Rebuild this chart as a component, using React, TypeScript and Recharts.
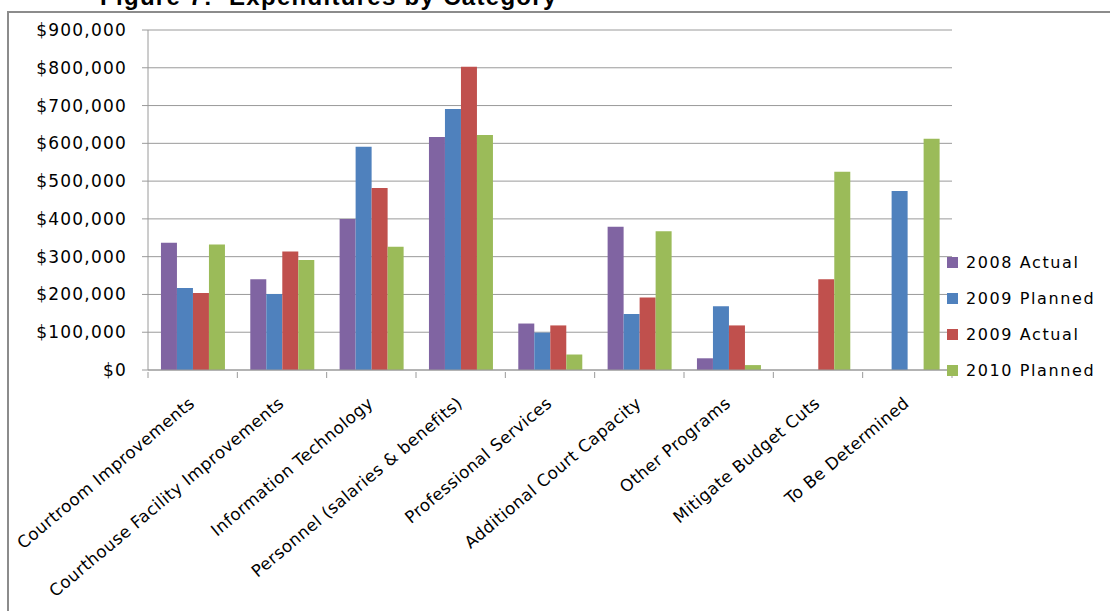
import { BarChart, Bar, XAxis, YAxis, CartesianGrid } from 'recharts'

const categories = [
  'Courtroom Improvements',
  'Courthouse Facility Improvements',
  'Information Technology',
  'Personnel (salaries & benefits)',
  'Professional Services',
  'Additional Court Capacity',
  'Other Programs',
  'Mitigate Budget Cuts',
  'To Be Determined',
]
const actual2008 = [337000, 240000, 400000, 617000, 123000, 379000, 31000, 0, 0]
const planned2009 = [217000, 201000, 591000, 691000, 99000, 148000, 169000, 0, 474000]
const actual2009 = [204000, 314000, 482000, 803000, 118000, 192000, 118000, 240000, 0]
const planned2010 = [332000, 291000, 326000, 622000, 41000, 367000, 13000, 525000, 612000]
const yTicks = [0, 100000, 200000, 300000, 400000, 500000, 600000, 700000, 800000, 900000]

const series = [
  { key: 'a2008', name: '2008 Actual', color: '#8064A2' },
  { key: 'p2009', name: '2009 Planned', color: '#4F81BD' },
  { key: 'a2009', name: '2009 Actual', color: '#C0504D' },
  { key: 'p2010', name: '2010 Planned', color: '#9BBB59' },
]

const data = categories.map((name, i) => ({
  name,
  a2008: actual2008[i],
  p2009: planned2009[i],
  a2009: actual2009[i],
  p2010: planned2010[i],
}))

const W = 1110
const H = 611
const M = { top: 30, right: 158, bottom: 0, left: 0 }
const Y_W = 148
const PLOT_W = W - M.left - M.right - Y_W
const FONT = '"DejaVu Sans", sans-serif'
const GRID = '#9a9a9a'

function CategoryTick(props: any) {
  const { x, y, payload, index } = props
  const band = PLOT_W / categories.length
  const left = x - band / 2
  const tx = x + 3
  const ty = y + 33
  return (
    <g>
      <line x1={left} y1={y} x2={left} y2={y + 6} stroke={GRID} />
      {index === categories.length - 1 && (
        <line x1={left + band} y1={y} x2={left + band} y2={y + 6} stroke={GRID} />
      )}
      <text
        x={tx}
        y={ty}
        transform={`rotate(-40, ${tx}, ${ty})`}
        textAnchor="end"
        fontFamily={FONT}
        fontSize={16.7}
        letterSpacing={0.45}
        fill="#000"
      >
        {payload.value}
      </text>
    </g>
  )
}

export default function App() {
  return (
    <div style={{ position: 'absolute', left: 0, top: 0, width: W, height: H, background: '#fff', overflow: 'hidden' }}>
      <div
        style={{
          position: 'absolute', left: 7, top: 11, width: W - 7, height: H - 11,
          borderTop: '2px solid #8c8c8c', borderLeft: '2px solid #8c8c8c', boxSizing: 'border-box',
        }}
      />
      <div
        style={{
          position: 'absolute', left: 100, top: -15, fontFamily: '"Liberation Sans", Arial, sans-serif',
          fontWeight: 'bold', fontSize: 24, lineHeight: '24px', letterSpacing: 1.3, whiteSpace: 'pre', color: '#000',
        }}
      >
        {'Figure 7:  Expenditures by Category'}
      </div>
      <div style={{ position: 'absolute', left: 0, top: 0 }}>
        <BarChart width={W} height={H} data={data} margin={M} barCategoryGap="14.5%" barGap={0}>
          <CartesianGrid vertical={false} stroke={GRID} />
          <XAxis
            dataKey="name"
            interval={0}
            height={H - 370}
            tickSize={0}
            tickLine={false}
            axisLine={{ stroke: GRID }}
            tick={<CategoryTick />}
          />
          <YAxis
            width={Y_W}
            domain={[0, 900000]}
            ticks={yTicks}
            interval={0}
            tickSize={6}
            tickMargin={15}
            axisLine={{ stroke: GRID }}
            tickLine={{ stroke: GRID }}
            tick={{ fontFamily: FONT, fontSize: 17, fill: '#000', letterSpacing: 1.2 }}
            tickFormatter={(v: number) => `$${v.toLocaleString('en-US')}`}
          />
          {series.map(s => (
            <Bar key={s.key} dataKey={s.key} name={s.name} fill={s.color} isAnimationActive={false} />
          ))}
        </BarChart>
      </div>
      <div style={{ position: 'absolute', left: 947, top: 244 }}>
        {series.map(s => (
          <div key={s.key} style={{ display: 'flex', alignItems: 'center', height: 36 }}>
            <div style={{ width: 11, height: 11, background: s.color, marginRight: 8 }} />
            <span style={{ fontFamily: FONT, fontSize: 16, letterSpacing: 1.6, color: '#000', whiteSpace: 'nowrap' }}>
              {s.name}
            </span>
          </div>
        ))}
      </div>
    </div>
  )
}
